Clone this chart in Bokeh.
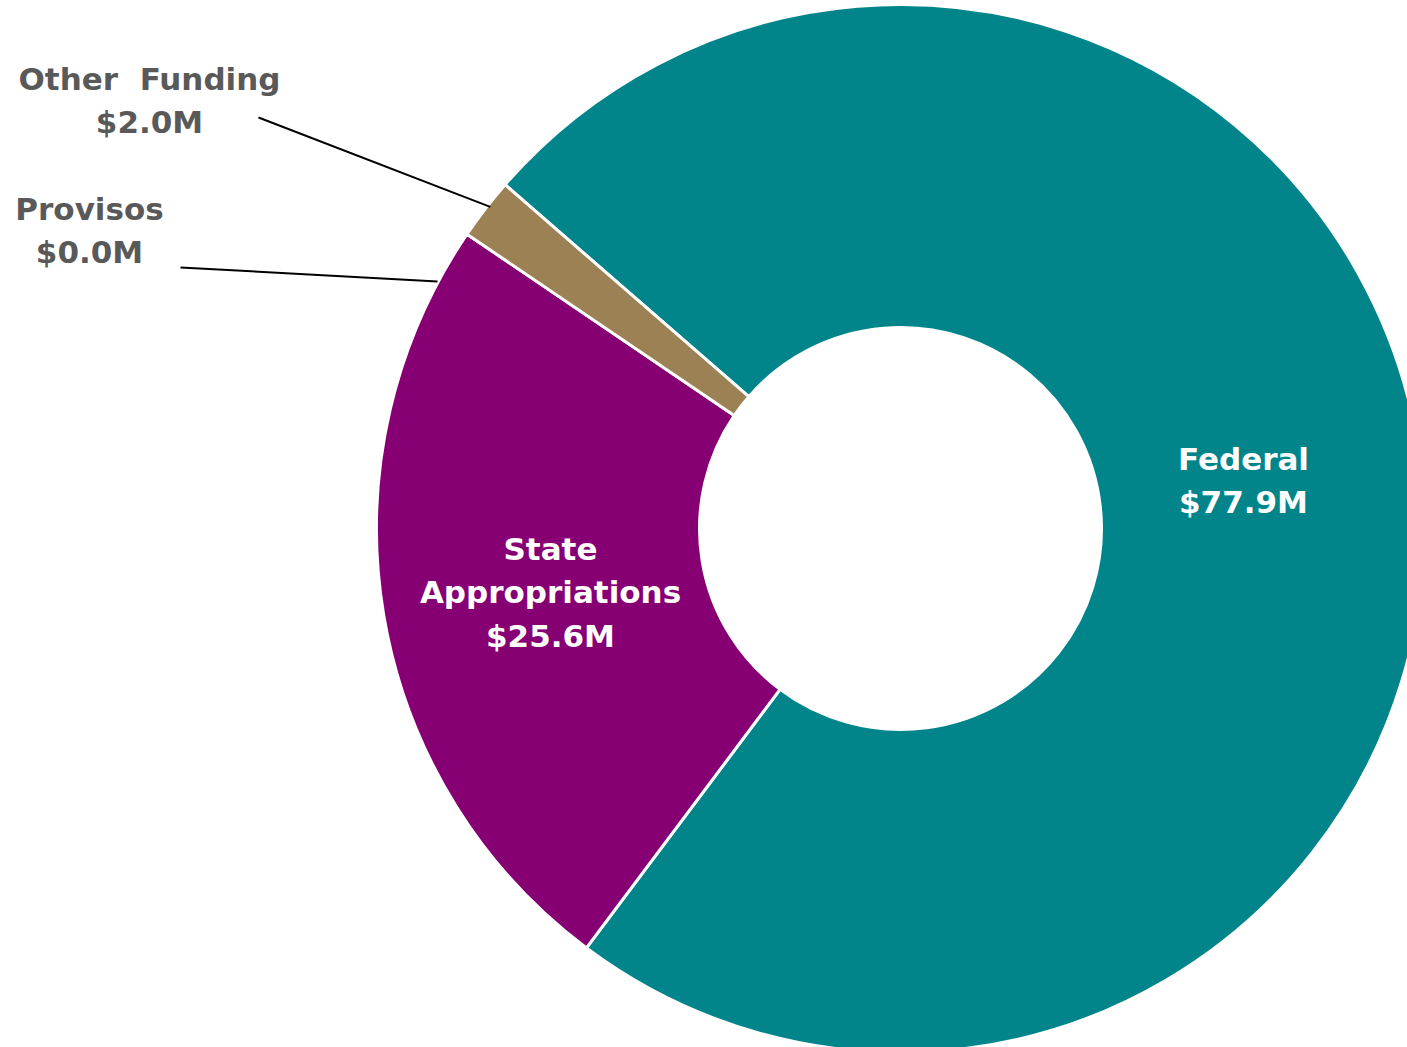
import math
from bokeh.plotting import figure
from bokeh.models import Range1d, ColumnDataSource
from bokeh.core.properties import value
from bokeh.embed import file_html
from bokeh.resources import INLINE

# ---- data (clockwise order, as drawn) ----
categories = ["Federal", "State\nAppropriations", "Provisos", "Other  Funding"]
amounts = [77.9, 25.6, 0.0, 2.0]          # $M
colors = ["#01848A", "#860073", "#FFFFFF", "#9B8153"]

# ---- layout (reference pixel space) ----
W, H = 1407, 1047
CX, CY = 900, 528
R_OUT, R_IN = 524, 201
START_DEG = 139.0  # math angle where the first slice begins, going clockwise

def ty(y):  # reference pixel y -> data y (upwards)
    return H - y

p = figure(width=W, height=H, output_backend="svg", toolbar_location=None,
           x_range=Range1d(0, W), y_range=Range1d(0, H),
           min_border=0, outline_line_color=None)
p.axis.visible = False
p.grid.visible = False
p.background_fill_color = "white"
p.border_fill_color = "white"

total = sum(amounts)
starts, ends, cols, mids = [], [], [], []
cum = 0.0
for a, c in zip(amounts, colors):
    s = math.radians(START_DEG - (cum + a) / total * 360)
    e = math.radians(START_DEG - cum / total * 360)
    mids.append((s + e) / 2)
    if a > 0:
        starts.append(s); ends.append(e); cols.append(c)
    cum += a

src = ColumnDataSource(dict(x=[CX] * len(starts), y=[ty(CY)] * len(starts),
                            start=starts, end=ends, color=cols))
p.annular_wedge(x="x", y="y", inner_radius=R_IN, outer_radius=R_OUT,
                start_angle="start", end_angle="end", direction="anticlock",
                fill_color="color", line_color="white", line_width=3, source=src)

font = value("DejaVu Sans")

def label(txt, x, y, color):
    p.text(x=[x], y=[ty(y)], text=[txt.replace("  ", "\u00a0 ")], text_font=font,
           text_font_style="bold", text_font_size="31px", text_color=color,
           text_align="center", text_baseline="middle", text_line_height=1.2)

fmt = lambda v: f"${v:.1f}M"
label(f"{categories[0]}\n{fmt(amounts[0])}", 1243, 480, "white")
label(f"{categories[1]}\n{fmt(amounts[1])}", 550, 592, "white")
label(f"{categories[3]}\n{fmt(amounts[3])}", 149, 100, "#595959")
label(f"{categories[2]}\n{fmt(amounts[2])}", 89, 230, "#595959")

# leader lines
ox = CX + R_OUT * math.cos(mids[3]); oy = CY - R_OUT * math.sin(mids[3])
p.line(x=[258, ox + 5], y=[ty(117), ty(oy - 2)], line_color="black", line_width=2)
p.line(x=[180, 437], y=[ty(267), ty(281)], line_color="black", line_width=2)

open("out.html", "w").write(file_html(p, INLINE))
